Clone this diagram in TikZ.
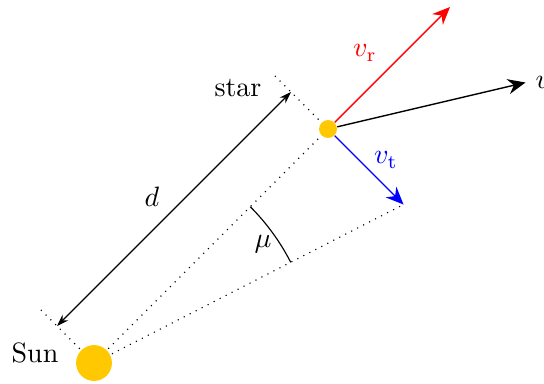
\documentclass[tikz,border=0pt]{standalone}
\usetikzlibrary{arrows.meta,calc}
\definecolor{sunyellow}{RGB}{255,200,0}
\begin{document}
\begin{tikzpicture}[x=0.35714pt,y=0.35714pt,
  body/.style={circle,fill=sunyellow,inner sep=0pt},
  vec/.style={line width=0.5pt,-{Stealth[length=6.3pt,width=5.4pt]}},
  dimarrow/.style={line width=0.4pt,{Stealth[length=4.3pt,width=2.9pt]}-{Stealth[length=4.3pt,width=2.9pt]}},
  guide/.style={dotted,line width=0.4pt}]
\useasboundingbox (0,0) rectangle (544,383);
% positions
\coordinate (sunc) at (94,20);
\coordinate (starc) at (328,254);
\coordinate (rtip) at (450,376);
\coordinate (ttip) at (403.5,178.5);
\coordinate (vtip) at (525.5,300.5);
\coordinate (startick) at (272,310);
\coordinate (suntick) at (38,76);
\coordinate (dA) at (57,57);
\coordinate (dB) at (291,291);
% guides
\draw[guide] (sunc) -- (starc);
\draw[guide] (sunc) -- (ttip);
\draw[guide] (starc) -- (startick);
\draw[guide] (sunc) -- (suntick);
% bodies
\node[body,minimum size=12.8pt] (sun) at (sunc) {};
\node[body,minimum size=6.4pt] (star) at (starc) {};
% vectors
\draw[vec,red] (star) -- (rtip);
\draw[vec,blue] (star) -- (ttip);
\draw[vec,black] (star) -- (vtip);
% distance
\draw[dimarrow] (dB) -- (dA);
% angle
\draw[line width=0.4pt] ($(sunc)+(27.1:221)$) arc[start angle=27.1,end angle=45,radius=78.93pt];
% labels
\node (lstar) at (238,295) {star};
\node (lsun) at (35,30) {Sun};
\node (ld) at (152,186) {$d$};
\node (lmu) at (263,139) {$\mu$};
\node[red] (lvr) at (365,330) {$v_{\mathrm{r}}$};
\node[blue] (lvt) at (386,223) {$v_{\mathrm{t}}$};
\node[anchor=west,inner sep=0pt] (lv) at (535,301) {$v$};
\end{tikzpicture}
\end{document}
